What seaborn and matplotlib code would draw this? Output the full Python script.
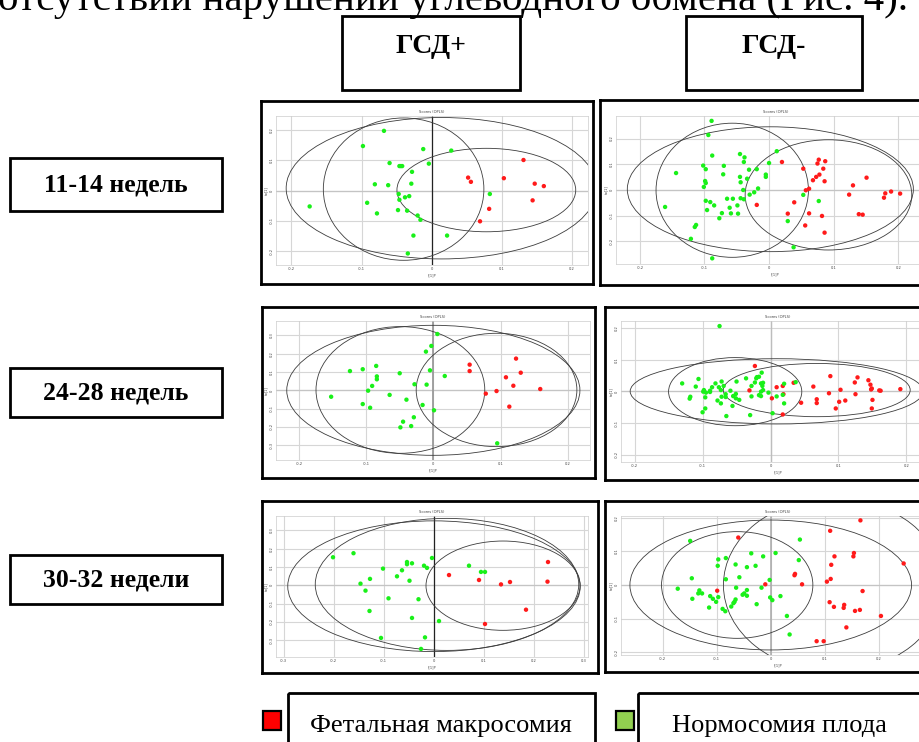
import matplotlib
matplotlib.use("Agg")
import matplotlib.pyplot as plt
from matplotlib.patches import Ellipse, Rectangle
import numpy as np
import pandas as pd
import seaborn as sns

# ---------------- data ----------------
GROUPS = ["Фетальная макросомия", "Нормосомия плода"]
ROW_LABELS = ["11-14 недель", "24-28 недель", "30-32 недели"]
COL_LABELS = ["ГСД+", "ГСД-"]
CAPTION = "отсутствии нарушений углеводного обмена (Рис. 4)."

# panel 1: 11-14 weeks, GDM+
P1_NORMO_X = [-0.068, -0.098, -0.012, 0.028, -0.060, -0.046, -0.044, -0.042, -0.004, -0.028, -0.081, -0.062, -0.029, -0.047,
              0.083, -0.032, -0.038, -0.046, -0.174, -0.092, -0.078, -0.048, -0.035, -0.020, -0.016, -0.026, 0.022, -0.034]
P1_NORMO_Y = [0.197, 0.147, 0.137, 0.132, 0.091, 0.081, 0.081, 0.081, 0.089, 0.062, 0.021, 0.018, 0.023, -0.011,
              -0.011, -0.018, -0.022, -0.030, -0.052, -0.040, -0.075, -0.064, -0.066, -0.082, -0.096, -0.148, -0.148, -0.207]
P1_MACRO_X = [0.131, 0.052, 0.056, 0.103, 0.147, 0.160, 0.144, 0.082, 0.069]
P1_MACRO_Y = [0.101, 0.043, 0.029, 0.041, 0.023, 0.015, -0.032, -0.060, -0.101]
P1_ELL_CX = [0.014, -0.040, 0.078]
P1_ELL_CY = [0.008, 0.005, 0.002]
P1_ELL_W = [0.443, 0.229, 0.255]
P1_ELL_H = [0.466, 0.469, 0.275]

# panel 2: 11-14 weeks, GDM-
P2_NORMO_X = [-0.089, -0.094, -0.088, 0.012, -0.045, -0.038, -0.039, -0.102, -0.098, -0.070,
              0.000, -0.144, -0.071, -0.031, -0.019, -0.005, -0.005, -0.045, -0.034, -0.044,
              -0.099, -0.098, -0.101, -0.040, -0.017, -0.023, -0.030, 0.053, -0.044, -0.039,
              -0.065, -0.056, -0.098, -0.091, -0.085, -0.049, -0.061, 0.077, -0.161, -0.096,
              -0.073, -0.059, -0.048, -0.077, 0.029, -0.113, -0.115, -0.121, 0.038, -0.088]
P2_NORMO_Y = [0.269, 0.214, 0.134, 0.151, 0.140, 0.127, 0.109, 0.095, 0.081, 0.094,
              0.105, 0.066, 0.061, 0.079, 0.081, 0.060, 0.051, 0.051, 0.044, 0.030,
              0.035, 0.027, 0.012, 0.000, 0.006, -0.009, -0.018, -0.019, -0.032, -0.036,
              -0.034, -0.034, -0.042, -0.047, -0.060, -0.060, -0.069, -0.043, -0.066, -0.078,
              -0.090, -0.091, -0.092, -0.110, -0.121, -0.136, -0.144, -0.190, -0.223, -0.266]
P2_MACRO_X = [0.020, 0.053, 0.077, 0.087, 0.075, 0.084, 0.078, 0.073, 0.068, 0.086, 0.062, 0.057, 0.130, 0.151,
              0.124, 0.180, 0.189, 0.203, 0.178, 0.039, -0.019, 0.029, 0.062, 0.082, 0.139, 0.145, 0.056, 0.086]
P2_MACRO_Y = [0.109, 0.083, 0.118, 0.112, 0.103, 0.083, 0.060, 0.051, 0.038, 0.034, 0.005, -0.001, 0.018, 0.048,
              -0.018, -0.013, -0.006, -0.014, -0.030, -0.048, -0.058, -0.092, -0.091, -0.101, -0.094, -0.096, -0.138, -0.166]
P2_ELL_CX = [0.002, -0.057, 0.092]
P2_ELL_CY = [0.003, -0.001, -0.019]
P2_ELL_W = [0.443, 0.236, 0.258]
P2_ELL_H = [0.486, 0.522, 0.429]

# panel 3: 24-28 weeks, GDM+
P3_NORMO_X = [0.006, -0.003, -0.011, -0.124, -0.105, -0.085, -0.050, -0.005, 0.017, -0.084, -0.084, -0.091, -0.028, -0.010,
              -0.097, -0.065, -0.152, -0.040, -0.105, -0.016, -0.094, 0.001, -0.029, -0.045, -0.033, -0.049, 0.095]
P3_NORMO_Y = [0.307, 0.242, 0.211, 0.105, 0.115, 0.133, 0.093, 0.109, 0.078, 0.076, 0.060, 0.024, 0.033, 0.031,
              -0.002, -0.025, -0.035, -0.051, -0.075, -0.080, -0.095, -0.109, -0.147, -0.171, -0.195, -0.202, -0.289]
P3_MACRO_X = [0.123, 0.054, 0.054, 0.130, 0.108, 0.119, 0.159, 0.094, 0.078, 0.113]
P3_MACRO_Y = [0.173, 0.140, 0.105, 0.096, 0.071, 0.025, 0.007, -0.004, -0.018, -0.089]
P3_ELL_CX = [0.000, -0.049, 0.094]
P3_ELL_CY = [0.000, 0.002, 0.002]
P3_ELL_W = [0.436, 0.251, 0.239]
P3_ELL_H = [0.709, 0.691, 0.618]

# panel 4: 24-28 weeks, GDM-
P4_NORMO_X = [-0.075, -0.106, -0.130, -0.110, -0.118, -0.119, -0.099, -0.098, -0.095, -0.089,
              -0.089, -0.096, -0.086, -0.081, -0.076, -0.072, -0.069, -0.073, -0.066, -0.066,
              -0.072, -0.059, -0.055, -0.050, -0.078, -0.073, -0.056, -0.051, -0.051, -0.046,
              -0.096, -0.100, -0.065, -0.036, -0.028, -0.021, -0.020, -0.017, -0.013, -0.014,
              -0.011, -0.012, -0.023, -0.014, -0.011, -0.017, -0.014, -0.003, -0.028, -0.030,
              0.037, 0.020, 0.009, 0.003, 0.018, 0.020]
P4_NORMO_Y = [0.206, 0.039, 0.025, 0.015, -0.017, -0.023, -0.001, 0.004, -0.004, 0.002,
              -0.002, -0.019, 0.013, 0.025, 0.013, 0.031, 0.017, 0.004, -0.009, -0.018,
              -0.017, 0.002, -0.015, 0.031, -0.029, -0.038, -0.046, -0.008, -0.022, -0.027,
              -0.054, -0.066, -0.078, 0.041, 0.017, 0.041, 0.045, 0.046, 0.059, 0.025,
              0.027, 0.017, 0.028, -0.001, 0.004, -0.012, -0.015, -0.004, -0.016, -0.075,
              0.029, -0.038, -0.016, -0.069, -0.011, 0.024]
P4_MACRO_X = [-0.023, -0.031, 0.002, 0.009, 0.018, 0.019, 0.034, 0.018, 0.045, 0.063,
              0.088, 0.068, 0.068, 0.086, 0.103, 0.101, 0.110, 0.096, 0.124, 0.128,
              0.125, 0.144, 0.147, 0.149, 0.148, 0.160, 0.162, 0.150, 0.149, 0.191]
P4_MACRO_Y = [0.080, 0.003, -0.022, 0.013, 0.017, -0.009, 0.027, -0.073, -0.036, 0.015,
              0.048, -0.025, -0.037, -0.006, 0.005, -0.033, -0.029, -0.054, 0.028, 0.044,
              -0.009, 0.035, 0.021, 0.009, 0.006, 0.003, 0.002, -0.027, -0.054, 0.007]
P4_ELL_CX = [0.009, -0.052, 0.068]
P4_ELL_CY = [0.000, -0.001, 0.004]
P4_ELL_W = [0.431, 0.196, 0.275]
P4_ELL_H = [0.206, 0.215, 0.168]

# panel 5: 30-32 weeks, GDM+
P5_NORMO_X = [-0.160, -0.201, -0.003, -0.053, -0.043, -0.053, -0.019, -0.013, -0.101, -0.063, -0.073, -0.127, -0.048,
              -0.146, -0.136, -0.090, -0.030, -0.128, -0.043, 0.011, -0.105, -0.017, -0.025, 0.071, 0.095, 0.103]
P5_NORMO_Y = [0.175, 0.153, 0.149, 0.127, 0.120, 0.115, 0.107, 0.095, 0.091, 0.082, 0.049, 0.035, 0.025,
              0.009, -0.029, -0.071, -0.076, -0.140, -0.178, -0.195, -0.287, -0.284, -0.347, 0.107, 0.073, 0.073]
P5_MACRO_X = [0.031, 0.091, 0.135, 0.153, 0.229, 0.228, 0.185, 0.103]
P5_MACRO_Y = [0.056, 0.029, 0.005, 0.018, 0.127, 0.020, -0.133, -0.211]
P5_ELL_CX = [0.001, 0.027, 0.139]
P5_ELL_CY = [-0.005, 0.005, -0.002]
P5_ELL_W = [0.585, 0.527, 0.308]
P5_ELL_H = [0.713, 0.720, 0.487]

# panel 6: 30-32 weeks, GDM-
P6_NORMO_X = [-0.149, 0.054, -0.036, 0.009, -0.014, -0.083, -0.097, 0.052, -0.098, -0.065,
              -0.044, -0.028, -0.146, -0.083, -0.058, -0.002, -0.017, -0.064, -0.044, -0.049,
              -0.052, -0.044, -0.172, -0.132, -0.134, -0.127, -0.145, -0.112, -0.107, -0.097,
              -0.101, -0.065, -0.067, -0.069, 0.018, -0.001, 0.003, -0.026, -0.114, -0.089,
              -0.084, -0.073, 0.030, 0.035]
P6_NORMO_Y = [0.131, 0.135, 0.094, 0.095, 0.085, 0.080, 0.076, 0.074, 0.057, 0.061,
              0.053, 0.057, 0.020, 0.017, 0.023, 0.015, -0.008, -0.008, -0.015, -0.025,
              -0.029, -0.032, -0.011, -0.016, -0.025, -0.025, -0.041, -0.033, -0.041, -0.036,
              -0.050, -0.043, -0.050, -0.054, -0.033, -0.037, -0.045, -0.057, -0.067, -0.071,
              -0.078, -0.064, -0.092, -0.147]
P6_MACRO_X = [0.166, 0.110, -0.060, 0.118, 0.154, 0.153, 0.112, 0.246, 0.045, 0.044, 0.111, 0.104, 0.058,
              -0.010, -0.099, 0.170, 0.109, 0.117, 0.136, 0.135, 0.156, 0.165, 0.204, 0.140, 0.085, 0.098]
P6_MACRO_Y = [0.192, 0.161, 0.141, 0.085, 0.095, 0.085, 0.060, 0.064, 0.033, 0.029, 0.018, 0.010, 0.002,
              0.002, -0.017, -0.018, -0.051, -0.065, -0.059, -0.068, -0.077, -0.074, -0.092, -0.126, -0.167, -0.167]
P6_ELL_CX = [0.000, -0.062, 0.116]
P6_ELL_CY = [0.000, 0.000, 0.000]
P6_ELL_W = [0.521, 0.280, 0.407]
P6_ELL_H = [0.386, 0.317, 0.515]

TICKS_02 = [-0.2, -0.1, 0.0, 0.1, 0.2]
TICKS_03 = [-0.3, -0.2, -0.1, 0.0, 0.1, 0.2, 0.3]

# ---------------- layout / style ----------------
W, H = 919, 742
sns.set_theme(style="white")
plt.rcParams["font.family"] = ["Liberation Serif", "DejaVu Serif"]
plt.rcParams["text.color"] = "black"

PT_COLORS = {GROUPS[0]: "#ff1a1a", GROUPS[1]: "#19f019"}
LEG_COLORS = ["#ff0000", "#92d050"]

fig = plt.figure(figsize=(W / 100, H / 100), dpi=100)
fig.patch.set_facecolor("white")


def pixrect(x0, y0, x1, y1):
    return [x0 / W, 1 - y1 / H, (x1 - x0) / W, (y1 - y0) / H]


bg = fig.add_axes([0, 0, 1, 1])
bg.set_xlim(0, W)
bg.set_ylim(H, 0)
bg.axis("off")


def box(x0, y0, x1, y1, lw=2.0):
    bg.add_patch(Rectangle((x0, y0), x1 - x0, y1 - y0, fill=False, ec="black", lw=lw, clip_on=False))


# caption line of the page, cut by the top edge
bg.text(-2, 10, CAPTION, ha="left", va="baseline", fontsize=29.5, color="black")

# column headers
for (x0, x1), lab in zip([(342, 520), (686, 862)], COL_LABELS):
    box(x0, 16, x1, 90)
    bg.text((x0 + x1) / 2, 53, lab, ha="center", va="baseline", fontsize=20, fontweight="bold", color="black")

# row labels
for (y0, y1), lab in zip([(158, 211), (368, 417), (555, 604)], ROW_LABELS):
    box(10, y0, 222, y1)
    bg.text(116, (y0 + y1) / 2 + 7, lab, ha="center", va="baseline", fontsize=18.5, fontweight="bold", color="black")

# legend
for (sx, bx0, bx1, tx), lab, col in zip([(263, 288, 595, 441), (616, 638, 935, 779)], GROUPS, LEG_COLORS):
    bg.add_patch(Rectangle((sx, 711), 18, 19, fc=col, ec="black", lw=1.6))
    box(bx0, 693, bx1, 760)
    bg.text(tx, 732, lab, ha="center", va="baseline", fontsize=19, color="black")

PANELS = [
    dict(nx=P1_NORMO_X, ny=P1_NORMO_Y, mx=P1_MACRO_X, my=P1_MACRO_Y,
         ell=(P1_ELL_CX, P1_ELL_CY, P1_ELL_W, P1_ELL_H),
         frame=(261, 101, 593, 284), plot=(276, 116, 588, 265),
         xlim=(-0.222, 0.223), ylim=(-0.245, 0.246), xt=TICKS_02, yt=TICKS_02, vline=("#222222", 0.9)),
    dict(nx=P2_NORMO_X, ny=P2_NORMO_Y, mx=P2_MACRO_X, my=P2_MACRO_Y,
         ell=(P2_ELL_CX, P2_ELL_CY, P2_ELL_W, P2_ELL_H),
         frame=(600, 100, 940, 285), plot=(616, 116, 935, 264),
         xlim=(-0.237, 0.257), ylim=(-0.288, 0.288), xt=TICKS_02, yt=TICKS_02, vline=None),
    dict(nx=P3_NORMO_X, ny=P3_NORMO_Y, mx=P3_MACRO_X, my=P3_MACRO_Y,
         ell=(P3_ELL_CX, P3_ELL_CY, P3_ELL_W, P3_ELL_H),
         frame=(262, 307, 595, 478), plot=(276, 321, 590, 460),
         xlim=(-0.234, 0.233), ylim=(-0.380, 0.378), xt=TICKS_02, yt=TICKS_03, vline=("#9a9a9a", 1.3)),
    dict(nx=P4_NORMO_X, ny=P4_NORMO_Y, mx=P4_MACRO_X, my=P4_MACRO_Y,
         ell=(P4_ELL_CX, P4_ELL_CY, P4_ELL_W, P4_ELL_H),
         frame=(605, 307, 940, 480), plot=(621, 321, 935, 462),
         xlim=(-0.220, 0.242), ylim=(-0.223, 0.222), xt=TICKS_02, yt=TICKS_02, vline=("#bdbdbd", 1.0)),
    dict(nx=P5_NORMO_X, ny=P5_NORMO_Y, mx=P5_MACRO_X, my=P5_MACRO_Y,
         ell=(P5_ELL_CX, P5_ELL_CY, P5_ELL_W, P5_ELL_H),
         frame=(262, 501, 598, 673), plot=(276, 516, 588, 657),
         xlim=(-0.315, 0.309), ylim=(-0.391, 0.378), xt=TICKS_03, yt=TICKS_03, vline=("#222222", 0.9)),
    dict(nx=P6_NORMO_X, ny=P6_NORMO_Y, mx=P6_MACRO_X, my=P6_MACRO_Y,
         ell=(P6_ELL_CX, P6_ELL_CY, P6_ELL_W, P6_ELL_H),
         frame=(605, 501, 940, 672), plot=(621, 516, 935, 655),
         xlim=(-0.277, 0.304), ylim=(-0.208, 0.205), xt=TICKS_02, yt=TICKS_02, vline=("#a8a8a8", 1.1)),
]

SMALL = dict(fontsize=2.6, color="#444444", family="DejaVu Sans")

for p in PANELS:
    fa = fig.add_axes(pixrect(*p["frame"]))
    fa.set_facecolor("white")
    fa.set_xticks([])
    fa.set_yticks([])
    for s in fa.spines.values():
        s.set_linewidth(2.0)
        s.set_color("black")

    ax = fig.add_axes(pixrect(*p["plot"]))
    ax.set_facecolor("white")
    df = pd.DataFrame({
        "t1": list(p["mx"]) + list(p["nx"]),
        "to1": list(p["my"]) + list(p["ny"]),
        "group": [GROUPS[0]] * len(p["mx"]) + [GROUPS[1]] * len(p["nx"]),
    })
    sns.scatterplot(data=df, x="t1", y="to1", hue="group", palette=PT_COLORS, s=10,
                    linewidth=0, ax=ax, legend=False, zorder=4)
    cx, cy, ew, eh = p["ell"]
    for a, b, w_, h_ in zip(cx, cy, ew, eh):
        ax.add_patch(Ellipse((a, b), w_, h_, fill=False, ec="#3c3c3c", lw=0.6, zorder=3))
    ax.set_xlim(*p["xlim"])
    ax.set_ylim(*p["ylim"])
    ax.set_xticks(p["xt"])
    ax.set_yticks(p["yt"])
    ax.set_xticklabels([f"{v:g}" for v in p["xt"]], **SMALL)
    ax.set_yticklabels([f"{v:g}" for v in p["yt"]], rotation=90, va="center", **SMALL)
    ax.tick_params(length=0, pad=1.5)
    ax.grid(True, color="#d6d6d6", lw=0.8)
    ax.set_axisbelow(True)
    if p["vline"] is not None:
        ax.axvline(0, color=p["vline"][0], lw=p["vline"][1], zorder=2)
    ax.axhline(0, color="#c4c4c4", lw=0.9, zorder=1)
    for s in ax.spines.values():
        s.set_linewidth(0.5)
        s.set_color("#cccccc")
    ax.set_title("Scores (OPLS)", pad=2.5, **SMALL)
    ax.set_xlabel("t[1]P", labelpad=1.5, **SMALL)
    ax.set_ylabel("to[1]", labelpad=1.5, **SMALL)

fig.savefig("out.png", dpi=100, facecolor="white")
